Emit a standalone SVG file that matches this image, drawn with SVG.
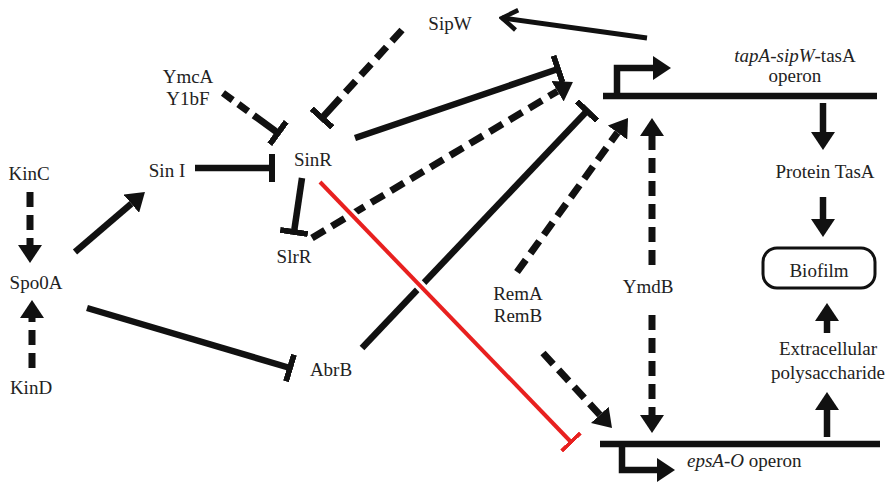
<svg xmlns="http://www.w3.org/2000/svg" width="892" height="486" viewBox="0 0 892 486" font-family="Liberation Serif, Times New Roman, Times, Noto Serif, DejaVu Serif, serif">
<style>
text{font-family:"Liberation Serif","Times New Roman",Times,"Noto Serif","DejaVu Serif",serif;font-size:19px;fill:#222;text-anchor:middle}
.s{stroke:#111;stroke-width:6.5;fill:none}
.d{stroke:#111;stroke-width:7;fill:none}
.it{font-style:italic}
</style>
<defs>
<marker id="ah" viewBox="0 0 18 24" refX="0" refY="12" markerWidth="18" markerHeight="24" markerUnits="userSpaceOnUse" orient="auto"><path d="M0,0 L18,12 L0,24 z" fill="#111"/></marker>
<marker id="tb" viewBox="0 0 6 28" refX="3" refY="14" markerWidth="6" markerHeight="28" markerUnits="userSpaceOnUse" orient="auto"><rect x="0" y="0" width="6" height="28" fill="#111"/></marker>
<marker id="tr" viewBox="0 0 4 26" refX="2" refY="13" markerWidth="4" markerHeight="26" markerUnits="userSpaceOnUse" orient="auto"><rect x="0" y="0" width="4" height="26" fill="#e8201f"/></marker>
<marker id="cv" viewBox="0 0 20 24" refX="17" refY="12" markerWidth="20" markerHeight="24" markerUnits="userSpaceOnUse" orient="auto"><path d="M2,2 L17,12 L2,22" fill="none" stroke="#111" stroke-width="4.5"/></marker>
</defs>
<rect width="892" height="486" fill="#fff"/>
<g id="connectors">
<line class="s" x1="647" y1="38" x2="502" y2="18" marker-end="url(#cv)" style="stroke-width:5"/>
<line class="d" x1="402" y1="30" x2="322" y2="118" style="stroke-dasharray:15 8 15 8 15 8 15 8 40" marker-end="url(#tb)"/>
<line class="d" x1="223" y1="93" x2="278" y2="133" style="stroke-dasharray:12 7 12 7 30" marker-end="url(#tb)"/>
<line class="s" x1="195" y1="168" x2="272" y2="168" marker-end="url(#tb)"/>
<line class="s" x1="302" y1="178" x2="294" y2="232" marker-end="url(#tb)"/>
<line class="s" x1="355" y1="138" x2="558" y2="69" marker-end="url(#tb)"/>
<line class="d" x1="312" y1="238" x2="557.5" y2="91.2" style="stroke-dasharray:15 8" marker-end="url(#ah)"/>
<line class="s" x1="362" y1="348" x2="587" y2="111" marker-end="url(#tb)"/>
<line class="d" x1="517" y1="272" x2="617.5" y2="132.6" style="stroke-dasharray:15 8" marker-end="url(#ah)"/>
<line class="d" x1="543" y1="353" x2="599.8" y2="414.8" style="stroke-dasharray:15 8" marker-end="url(#ah)"/>
<line class="d" x1="652" y1="265" x2="652" y2="136" style="stroke-dasharray:15 8" marker-end="url(#ah)"/>
<line class="d" x1="652" y1="315" x2="652" y2="415" style="stroke-dasharray:15 8" marker-end="url(#ah)"/>
<line class="s" x1="75" y1="252" x2="131.3" y2="203.7" marker-end="url(#ah)"/>
<line class="d" x1="30" y1="192" x2="30" y2="245" style="stroke-dasharray:15 8" marker-end="url(#ah)"/>
<line class="d" x1="32" y1="368" x2="32" y2="318" style="stroke-dasharray:15 8" marker-end="url(#ah)"/>
<line class="s" x1="87" y1="308" x2="290" y2="368" marker-end="url(#tb)"/>
<line x1="322" y1="184" x2="569" y2="440" stroke="#fff" stroke-width="10"/>
<line x1="320" y1="182" x2="571" y2="442" stroke="#e8201f" stroke-width="4" marker-end="url(#tr)"/>
<line class="s" x1="823" y1="103" x2="823" y2="132" marker-end="url(#ah)"/>
<line class="s" x1="823" y1="197" x2="823" y2="219" marker-end="url(#ah)"/>
<line class="s" x1="827" y1="437" x2="827" y2="410" marker-end="url(#ah)"/>
<line class="s" x1="827" y1="333" x2="827" y2="321" marker-end="url(#ah)"/>
</g>
<g id="tapA-operon">
<line class="s" x1="603" y1="96" x2="877" y2="96"/>
<path class="s" d="M617,96 V68 H653" marker-end="url(#ah)"/>
<text x="795" y="62"><tspan class="it">tapA-sipW</tspan>-tasA</text>
<text x="795" y="82">operon</text>
</g>
<g id="epsA-operon">
<line class="s" x1="600" y1="444" x2="880" y2="444"/>
<path class="s" d="M622,444 V470 H657" marker-end="url(#ah)"/>
<text x="687" y="467" style="text-anchor:start"><tspan class="it">epsA-O</tspan> operon</text>
</g>
<g id="SipW"><text x="450" y="30">SipW</text></g>
<g id="YmcA"><text x="188" y="83">YmcA</text><text x="188" y="105">Y1bF</text></g>
<g id="KinC"><text x="29" y="180">KinC</text></g>
<g id="SinI"><text x="167" y="177">Sin I</text></g>
<g id="SinR"><text x="313" y="166">SinR</text></g>
<g id="SlrR"><text x="294" y="263">SlrR</text></g>
<g id="Spo0A"><text x="36" y="289">Spo0A</text></g>
<g id="KinD"><text x="31" y="394">KinD</text></g>
<g id="AbrB"><text x="331" y="376">AbrB</text></g>
<g id="RemA"><text x="518" y="300">RemA</text><text x="518" y="322">RemB</text></g>
<g id="YmdB"><text x="648" y="293">YmdB</text></g>
<g id="ProteinTasA"><text x="825" y="178">Protein TasA</text></g>
<g id="Biofilm"><rect x="763" y="248" width="112" height="40" rx="14" fill="none" stroke="#111" stroke-width="3"/><text x="819" y="277">Biofilm</text></g>
<g id="EPS"><text x="828" y="355">Extracellular</text><text x="828" y="379">polysaccharide</text></g>
</svg>
